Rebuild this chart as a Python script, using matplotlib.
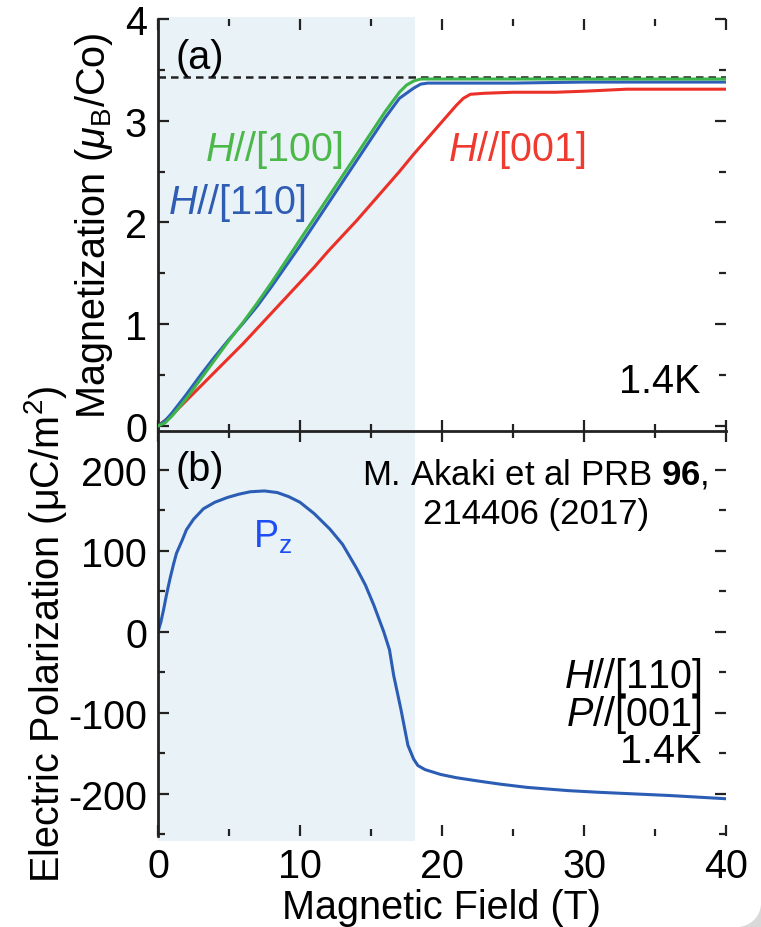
import numpy as np
import matplotlib
matplotlib.use('Agg')
import matplotlib.pyplot as plt
from matplotlib.patches import Rectangle, Polygon
from matplotlib.transforms import blended_transform_factory

plt.rcParams.update({
    'font.family': 'Liberation Sans',
    'mathtext.fontset': 'custom',
    'mathtext.rm': 'Liberation Sans',
    'mathtext.it': 'Liberation Sans:italic',
    'mathtext.bf': 'Liberation Sans:bold',
    'axes.unicode_minus': False,
})

# (a) magnetisation curves, 1.4 K
field_100 = [0, 0.5, 1, 2, 3, 4, 5, 6, 7, 8, 9, 10, 11, 12, 13, 14, 15, 16, 17, 17.5,
             18, 18.5, 19, 20, 25, 30, 35, 40]
mag_100 = [0, 0.03, 0.10, 0.27, 0.46, 0.65, 0.84, 1.02, 1.21, 1.41, 1.62, 1.83, 2.04, 2.25,
           2.46, 2.67, 2.88, 3.09, 3.28, 3.35, 3.39, 3.41, 3.41, 3.41, 3.41, 3.41, 3.41, 3.41]

field_110 = [0, 0.5, 1, 2, 3, 4, 5, 6, 7, 8, 9, 10, 11, 12, 13, 14, 15, 16, 17, 18,
             18.5, 19, 20, 25, 30, 35, 40]
mag_110 = [0, 0.05, 0.13, 0.31, 0.50, 0.68, 0.85, 1.01, 1.18, 1.37, 1.57, 1.77, 1.98, 2.19,
           2.40, 2.61, 2.82, 3.03, 3.22, 3.32, 3.36, 3.37, 3.37, 3.37, 3.38, 3.38, 3.38]

field_001 = [0, 1, 2, 3, 4, 5, 6, 7, 8, 9, 10, 11, 12, 13, 14, 15, 16, 17, 18, 19, 20,
             21, 21.5, 22, 23, 25, 28, 30, 33, 35, 40]
mag_001 = [0, 0.11, 0.25, 0.39, 0.53, 0.67, 0.81, 0.96, 1.11, 1.26, 1.41, 1.56, 1.72, 1.87,
           2.02, 2.18, 2.34, 2.50, 2.67, 2.83, 2.99, 3.15, 3.22, 3.26, 3.27, 3.28, 3.28,
           3.29, 3.31, 3.31, 3.31]

m_sat = 3.43

# (b) electric polarisation P//[001], H//[110]
field_p = [0, 0.2, 0.4, 0.6, 0.85, 1.1, 1.3, 1.7, 2.0, 2.5, 3.2, 4.0, 4.9, 5.7, 6.5, 7.5,
           8.4, 9.2, 10.0, 11.0, 12.1, 13.0, 14.0, 14.6, 15.2, 15.9, 16.3, 16.6, 17.1,
           17.6, 18.0, 18.3, 18.8, 19.9, 21, 22.5, 24.1, 26, 28.9, 31, 33.5, 36, 40]
pol_z = [0, 12, 28, 46, 66, 84, 97, 113, 126, 139, 152, 160, 166, 170, 173, 174, 172, 167,
         160, 146, 127, 108, 78, 58, 33, 0, -22, -54, -95, -140, -157, -165, -170, -176,
         -180, -184, -188, -192, -196, -198, -200, -202, -206]

shade_end = 18.1

fig = plt.figure(figsize=(7.61, 9.28), dpi=100)
ax_a = fig.add_axes([158 / 761, 1 - 432 / 928, 568 / 761, 412 / 928])
ax_b = fig.add_axes([158 / 761, 1 - 837 / 928, 568 / 761, 405 / 928])
for ax in (ax_a, ax_b):
    ax.set_facecolor('none')

# light band marking the low-field phase, over both panels
trans = blended_transform_factory(ax_b.transData, fig.transFigure)
fig.add_artist(Rectangle((0, 1 - 842 / 928), shade_end, (842 - 18) / 928,
                         transform=trans, facecolor='#e9f2f7', edgecolor='none', zorder=-1))

ax_a.axhline(m_sat, color='#222222', lw=1.8, dashes=(3, 2), zorder=1)
ax_a.plot(field_001, mag_001, color='#eb3127', lw=2.2, zorder=2)
ax_a.plot(field_110, mag_110, color='#2d5fb8', lw=2.2, zorder=3)
ax_a.plot(field_100, mag_100, color='#3db54a', lw=2.2, zorder=4)

ax_b.plot(field_p, pol_z, color='#2b5db5', lw=2.2)

ax_a.set_xlim(0, 40)
ax_a.set_ylim(-0.05, 4.0)
ax_b.set_xlim(0, 40)
ax_b.set_ylim(-252, 248)

fs = 28.5
ax_a.set_xticks([0, 10, 20, 30, 40])
ax_a.set_xticks([5, 15, 25, 35], minor=True)
ax_a.set_yticks([0, 1, 2, 3, 4])
ax_a.set_yticks(np.arange(0.5, 4, 1.0), minor=True)
ax_b.set_xticks([0, 10, 20, 30, 40])
ax_b.set_xticks([5, 15, 25, 35], minor=True)
ax_b.set_yticks([-200, -100, 0, 100, 200])
ax_b.set_yticks([-250, -150, -50, 50, 150], minor=True)

for ax in (ax_a, ax_b):
    ax.tick_params(which='both', direction='in', top=True, bottom=True, left=True, right=True,
                   width=1.6, color='#222222', labelsize=fs, pad=8)
    ax.tick_params(which='major', length=8)
    ax.tick_params(which='minor', length=5)
    ax.spines['top'].set_visible(False)
    ax.spines['right'].set_visible(False)
    ax.spines['left'].set_linewidth(2)
    ax.spines['left'].set_color('#222222')
ax_a.tick_params(labelbottom=False)
ax_a.spines['bottom'].set_linewidth(2)
ax_a.spines['bottom'].set_color('#222222')
ax_b.spines['bottom'].set_visible(False)

ax_a.set_ylabel(r'Magnetization ($\mathit{\mu}_\mathrm{B}$/Co)', fontsize=fs)
ax_a.yaxis.set_label_coords(-0.076, 0.5)
ax_b.set_ylabel(r'Electric Polarization (μC/m$^2$)', fontsize=fs)
ax_b.yaxis.set_label_coords(-0.156, 0.5)
ax_b.set_xlabel('Magnetic Field (T)', fontsize=fs, labelpad=2)

# panel (a) annotations
ax_a.text(1.2, 3.63, '(a)', fontsize=fs, ha='left', va='center')
ax_a.text(3.3, 2.72, r'$\mathit{H//}$[100]', color='#4cb84a', fontsize=fs, ha='left', va='center')
ax_a.text(0.7, 2.20, r'$\mathit{H//}$[110]', color='#2f5db3', fontsize=fs, ha='left', va='center')
ax_a.text(20.4, 2.72, r'$\mathit{H//}$[001]', color='#ee3a2f', fontsize=fs, ha='left', va='center')
ax_a.text(38.2, 0.44, '1.4K', fontsize=fs, ha='right', va='center')

# panel (b) annotations
ax_b.text(1.2, 201, '(b)', fontsize=fs, ha='left', va='center')
ax_b.text(26.6, 195, r'M. Akaki et al PRB $\mathbf{96}$,', fontsize=25, ha='center', va='center')
ax_b.text(26.6, 146, '214406 (2017)', fontsize=25, ha='center', va='center')
ax_b.text(6.7, 105, r'P$_\mathrm{z}$', color='#1d4ef5', fontsize=27, ha='left', va='baseline')
ax_b.text(38.3, -54, r'$\mathit{H//}$[110]', fontsize=fs, ha='right', va='center')
ax_b.text(38.3, -101, r'$\mathit{P//}$[001]', fontsize=fs, ha='right', va='center')
ax_b.text(38.3, -147, '1.4K', fontsize=fs, ha='right', va='center')

# rounded window corner, bottom right
r = 24
theta = np.linspace(0, -np.pi / 2, 30)
cx, cy = 761 - r, r
arc = np.column_stack([(cx + r * np.cos(theta)) / 761, (cy + r * np.sin(theta)) / 928])
corner = np.vstack([arc, [[1, 0]]])
fig.add_artist(Polygon(corner, closed=True, transform=fig.transFigure,
                       facecolor='#d9d9d9', edgecolor='none'))

fig.savefig('out.png', dpi=100)
